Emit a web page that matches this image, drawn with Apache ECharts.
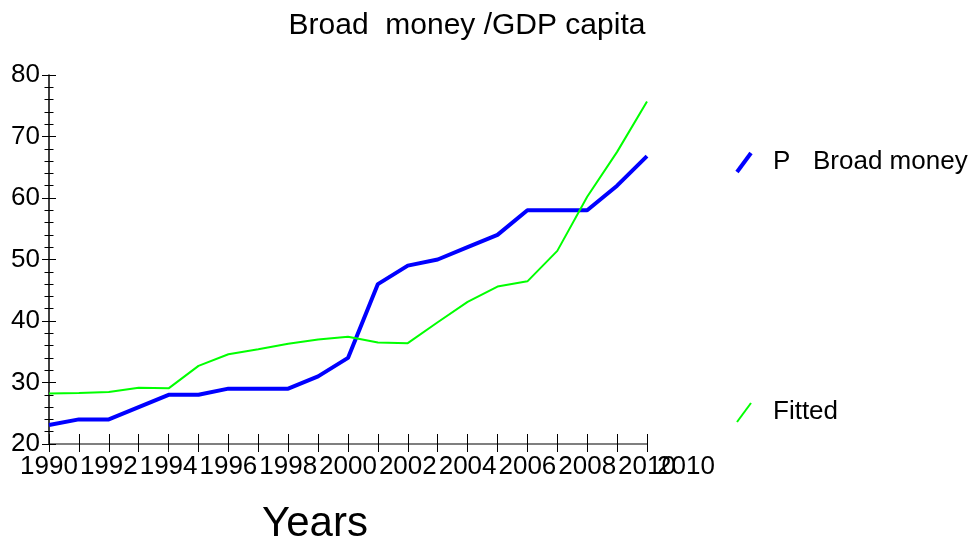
<!DOCTYPE html>
<html>
<head>
<meta charset="utf-8">
<script src="https://cdn.jsdelivr.net/npm/echarts@6/dist/echarts.min.js"></script>
<style>
html,body{margin:0;padding:0;background:#fff;}
#chart{width:976px;height:548px;}
</style>
</head>
<body>
<div id="chart"></div>
<script>
const years = ['1990','1991','1992','1993','1994','1995','1996','1997','1998','1999','2000','2001','2002','2003','2004','2005','2006','2007','2008','2009','2010'];
const broadMoney = [23.1,24,24,26,28,28,29,29,29,31,34,46,49,50,52,54,58,58,58,62,66.8];
const fitted = [28.2,28.3,28.45,29.15,29.05,32.7,34.6,35.4,36.3,37.0,37.45,36.5,36.4,39.8,43.1,45.6,46.45,51.4,60.2,67.5,75.7];
const titleText = 'Broad  money /GDP capita';
const xName = 'Years';
const extraXLabel = '2010';
const seriesNames = ['P   Broad money', 'Fitted'];

const FONT = 'Liberation Sans, Arial, Helvetica, sans-serif';
const chart = echarts.init(document.getElementById('chart'), null, {renderer:'canvas'});

const baseX = {
  type:'category', data: years, boundaryGap:false, position:'bottom'
};
const baseY = {type:'value', min:20, max:80, interval:10, splitNumber:5, position:'left'};

chart.setOption({
  backgroundColor:'#fff',
  animation:false,
  grid:{left:49, right:329, top:75, bottom:104, containLabel:false},
  xAxis:[
    Object.assign({}, baseX, {
      axisLine:{show:true, lineStyle:{color:'#555', width:1.5}},
      axisTick:{show:true, inside:false, length:8, interval:0, lineStyle:{color:'#000', width:1}},
      axisLabel:{show:true, interval:1, margin:10, color:'#000', fontSize:26, fontFamily:FONT},
      splitLine:{show:false}
    }),
    Object.assign({}, baseX, {
      axisLine:{show:false},
      axisTick:{show:true, inside:true, length:10, interval:0, lineStyle:{color:'#000', width:1}},
      axisLabel:{show:false},
      splitLine:{show:false}
    })
  ],
  yAxis:[
    Object.assign({}, baseY, {
      axisLine:{show:true, lineStyle:{color:'#000', width:1.5}},
      axisTick:{show:true, inside:false, length:7, lineStyle:{color:'#000', width:1}},
      minorTick:{show:true, splitNumber:5, length:4.5, lineStyle:{color:'#000', width:1}},
      axisLabel:{show:true, margin:9, color:'#000', fontSize:26, fontFamily:FONT},
      splitLine:{show:false}, minorSplitLine:{show:false}
    }),
    Object.assign({}, baseY, {
      axisLine:{show:false},
      axisTick:{show:true, inside:true, length:7, lineStyle:{color:'#000', width:1}},
      minorTick:{show:true, splitNumber:5, length:4.5, lineStyle:{color:'#000', width:1}},
      axisLabel:{show:false},
      splitLine:{show:false}, minorSplitLine:{show:false}
    })
  ],
  series:[
    {name:seriesNames[0], type:'line', data:broadMoney, xAxisIndex:0, yAxisIndex:0,
     symbol:'none', lineStyle:{color:'#0000ff', width:4}, itemStyle:{color:'#0000ff'}},
    {name:seriesNames[1], type:'line', data:fitted, xAxisIndex:0, yAxisIndex:0,
     symbol:'none', lineStyle:{color:'#00ff00', width:2}, itemStyle:{color:'#00ff00'}}
  ],
  graphic:[
    {type:'text', x:467, y:26, style:{text:titleText, fontSize:30, fontFamily:FONT, fill:'#000', align:'center', verticalAlign:'middle'}},
    {type:'text', x:315, y:524, style:{text:xName, fontSize:42, fontFamily:FONT, fill:'#000', align:'center', verticalAlign:'middle'}},
    {type:'text', x:657, y:467, style:{text:extraXLabel, fontSize:26, fontFamily:FONT, fill:'#000', align:'left', verticalAlign:'middle'}},
    {type:'line', shape:{x1:737, y1:172, x2:751, y2:153}, style:{stroke:'#0000ff', lineWidth:4}},
    {type:'text', x:773, y:162, style:{text:'P', fontSize:26, fontFamily:FONT, fill:'#000', verticalAlign:'middle'}},
    {type:'text', x:813, y:162, style:{text:'Broad money', fontSize:26, fontFamily:FONT, fill:'#000', verticalAlign:'middle'}},
    {type:'line', shape:{x1:737, y1:422, x2:751, y2:403}, style:{stroke:'#00ff00', lineWidth:2}},
    {type:'text', x:773, y:412, style:{text:seriesNames[1], fontSize:26, fontFamily:FONT, fill:'#000', verticalAlign:'middle'}}
  ]
});
</script>
</body>
</html>
